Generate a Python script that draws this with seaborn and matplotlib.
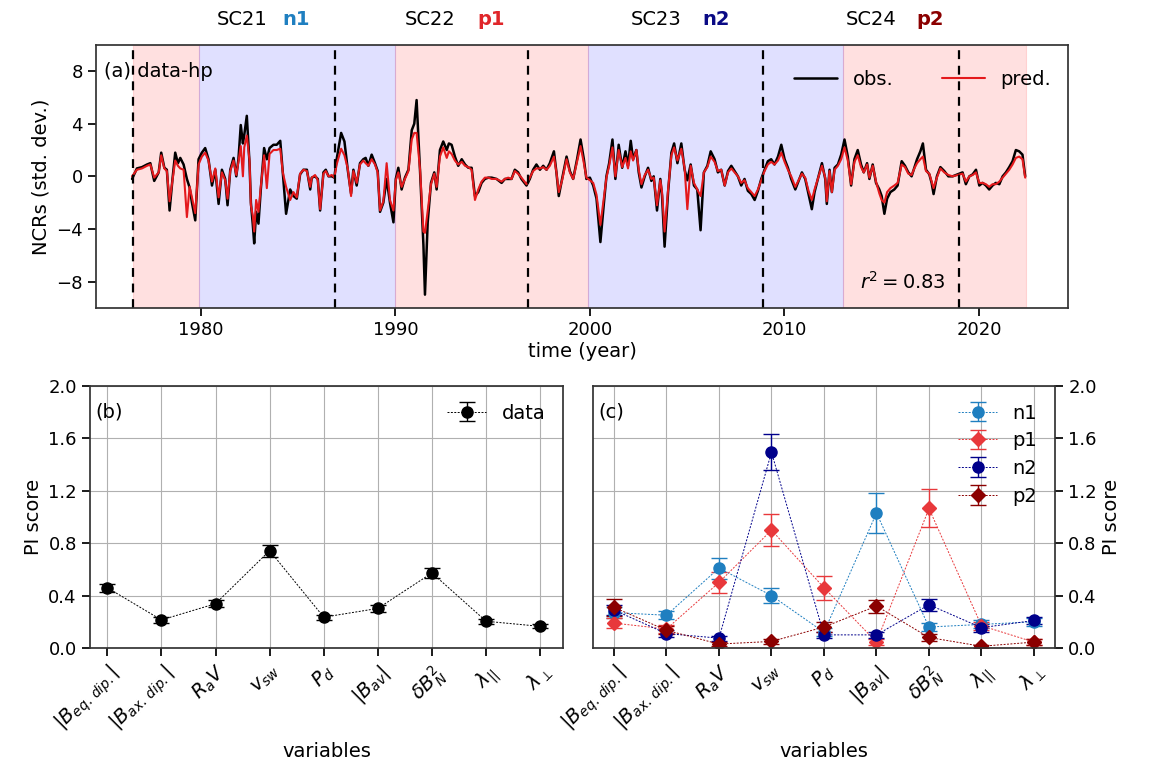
import numpy as np
import pandas as pd
import matplotlib
matplotlib.use("Agg")
import matplotlib.pyplot as plt
import seaborn as sns

# ---------------- data: panel (a) ----------------
years = [
    1976.46, 1976.71, 1976.97, 1977.23, 1977.40, 1977.60, 1977.83, 1977.96, 1978.12, 1978.25,
    1978.39, 1978.54, 1978.68, 1978.82, 1978.94, 1979.11, 1979.28, 1979.42, 1979.54, 1979.71,
    1979.88, 1980.05, 1980.22, 1980.39, 1980.57, 1980.74, 1980.91, 1981.08, 1981.25, 1981.37,
    1981.51, 1981.68, 1981.82, 1981.93, 1982.05, 1982.16, 1982.23, 1982.36, 1982.50, 1982.57,
    1982.67, 1982.74, 1982.84, 1982.96, 1983.08, 1983.25, 1983.39, 1983.53, 1983.73, 1983.90,
    1984.08, 1984.21, 1984.38, 1984.59, 1984.76, 1984.93, 1985.10, 1985.27, 1985.45, 1985.62,
    1985.70, 1985.87, 1986.01, 1986.13, 1986.30, 1986.42, 1986.56, 1986.73, 1986.86, 1986.98,
    1987.21, 1987.38, 1987.55, 1987.72, 1987.84, 1988.01, 1988.18, 1988.35, 1988.47, 1988.61,
    1988.78, 1988.95, 1989.09, 1989.21, 1989.38, 1989.55, 1989.72, 1989.90, 1990.02, 1990.15,
    1990.32, 1990.49, 1990.67, 1990.84, 1990.97, 1991.09, 1991.27, 1991.44, 1991.52, 1991.66,
    1991.83, 1992.00, 1992.12, 1992.29, 1992.46, 1992.64, 1992.75, 1992.89, 1993.06, 1993.23,
    1993.41, 1993.58, 1993.75, 1993.92, 1994.09, 1994.26, 1994.43, 1994.60, 1994.78, 1994.95,
    1995.20, 1995.46, 1995.63, 1995.80, 1995.97, 1996.14, 1996.31, 1996.48, 1996.74, 1996.91,
    1997.08, 1997.25, 1997.43, 1997.60, 1997.77, 1997.94, 1998.15, 1998.28, 1998.40, 1998.57,
    1998.80, 1998.97, 1999.14, 1999.34, 1999.52, 1999.69, 1999.82, 2000.00, 2000.17, 2000.34,
    2000.54, 2000.71, 2000.85, 2000.99, 2001.16, 2001.31, 2001.48, 2001.66, 2001.83, 2001.96,
    2002.10, 2002.22, 2002.39, 2002.51, 2002.65, 2002.82, 2002.99, 2003.16, 2003.28, 2003.45,
    2003.62, 2003.71, 2003.84, 2004.02, 2004.19, 2004.33, 2004.50, 2004.70,
    2004.87, 2005.01, 2005.18, 2005.35, 2005.52, 2005.69, 2005.86, 2006.04, 2006.21, 2006.41,
    2006.58, 2006.75, 2006.93, 2007.10, 2007.27, 2007.44, 2007.61, 2007.78, 2007.95, 2008.12,
    2008.30, 2008.47, 2008.64, 2008.81, 2008.98, 2009.15, 2009.32, 2009.49, 2009.67, 2009.84,
    2010.01, 2010.18, 2010.35, 2010.56, 2010.73, 2010.90, 2011.07, 2011.24, 2011.41, 2011.55,
    2011.72, 2011.93, 2012.10, 2012.18, 2012.32, 2012.44, 2012.58, 2012.75, 2012.92, 2013.09,
    2013.26, 2013.43, 2013.60, 2013.77,
    2013.94, 2014.08, 2014.25, 2014.37, 2014.54, 2014.71, 2014.88, 2015.00, 2015.14, 2015.28,
    2015.45, 2015.65, 2015.82, 2016.03, 2016.20, 2016.37, 2016.54, 2016.68, 2016.82, 2016.99,
    2017.12, 2017.28, 2017.45, 2017.57, 2017.67, 2017.84, 2018.02, 2018.22, 2018.43, 2018.65,
    2018.91, 2019.16, 2019.33, 2019.51, 2019.68, 2019.85, 2020.02, 2020.19, 2020.36, 2020.53,
    2020.70, 2020.87, 2021.05, 2021.22, 2021.39, 2021.56, 2021.73, 2021.90, 2022.07, 2022.24,
    2022.38,
]
obs = [
    -0.2, 0.6, 0.7, 0.9, 1.0, -0.35, 0.3, 1.8, 0.65, 0.5,
    -2.6, -0.2, 1.8, 1.0, 1.4, 0.9, -0.2, -0.85, -2.0, -3.35,
    1.3, 1.8, 2.15, 1.3, -0.7, 0.5, -2.1, 0.5, -0.2, -2.2,
    0.5, 1.4, 0.0, 1.3, 3.9, 2.5, 3.15, 4.6, 1.0, -2.0,
    -3.7, -5.1, -2.7, -3.6, -1.0, 2.15, 1.3, 2.15, 2.4, 2.4,
    2.7, 0.3, -2.85, -1.0, -1.5, -1.7, 0.15, 0.5, 0.5, -1.0,
    -0.1, 0.0, -0.2, -2.6, 0.3, 0.5, 0.0, 0.0, -0.1, 1.3,
    3.3, 2.65, 0.5, -1.3, 0.5, -0.7, 1.0, 1.3, 1.4, 0.8,
    1.65, 1.0, 0.4, -2.7, -2.0, -0.2, -2.0, -3.5, -0.2, 0.65,
    -1.0, -0.1, 0.5, 3.5, 4.0, 5.8, 0.3, -5.2, -9.0, -3.5,
    -0.5, 0.3, -1.0, 2.0, 2.65, 2.0, 2.5, 2.4, 1.5, 0.8,
    1.3, 0.9, 0.65, 0.65, -1.5, -1.2, -0.5, -0.2, -0.1, -0.1,
    -0.2, -0.5, -0.2, -0.2, -0.2, 0.5, 0.3, -0.2, -0.7, -0.2,
    0.5, 0.9, 0.5, 0.8, 0.5, 1.0, 1.9, 0.3, -1.5, -0.2,
    1.5, 0.4, -0.2, 1.3, 2.8, 1.3, -0.2, -0.1, -0.7, -1.7,
    -5.0, -2.2, 0.0, 1.0, 2.8, -0.2, 2.4, 0.65, 1.9, 0.8,
    2.7, 1.3, 2.0, 0.3, -0.85, 0.0, 0.65, -0.35, 0.0, -2.6,
    -0.2, -1.5, -5.35, -1.2, 1.8, 2.5, 1.0, 2.5,
    0.5, -0.3, 0.9, -0.7, -1.0, -4.1, 0.3, 0.8, 1.9, 1.3,
    0.3, 0.5, -0.7, 0.4, 0.8, 0.4, 0.0, -0.7, -0.2, -1.1,
    -1.35, -1.8, -1.1, -0.2, 0.5, 1.15, 1.3, 0.9, 1.5, 2.4,
    1.3, 0.65, -0.2, -1.0, -0.35, 0.3, -0.2, -1.35, -2.5, -1.2,
    -0.2, 1.0, -0.2, -2.1, 0.5, -1.2, 0.65, 0.9, 1.65, 2.8,
    1.5, -0.7, 1.3, 2.0,
    0.9, 0.3, 1.0, -0.2, 0.9, -0.5, -1.0, -1.5, -2.85, -1.7,
    -1.2, -1.0, -0.7, 1.15, 0.8, 0.3, 0.0, 0.65, 1.3, 1.9,
    2.5, 0.5, 0.15, -0.5, -1.35, 0.0, 0.7, 0.4, 0.0, 0.0,
    0.15, 0.3, -0.6, 0.0, 0.15, 0.5, -0.7, -0.5, -0.7, -1.0,
    -0.7, -0.5, -0.6, 0.0, 0.3, 0.7, 1.15, 2.0, 1.9, 1.65,
    0.0,
]
pred = [
    0.0, 0.5, 0.6, 0.8, 0.9, -0.1, 0.3, 1.6, 0.6, 0.4,
    -1.9, -0.3, 1.2, 0.8, 0.6, 0.5, -3.1, -0.8, -1.6, -2.8,
    0.9, 1.5, 1.8, 1.2, -0.4, 0.6, -1.6, 0.3, -0.3, -1.7,
    0.4, 1.2, 0.1, 1.1, 2.3, 0.0, 2.2, 3.1, 1.2, -2.2,
    -3.0, -4.2, -1.8, -2.7, -0.8, 1.6, -0.9, 1.7, 2.0, 2.0,
    2.1, 0.3, -0.8, -1.8, -1.2, -1.6, 0.2, 0.5, 0.4, -0.8,
    -0.1, 0.1, -0.3, -2.5, 0.2, 0.4, 0.0, 0.1, -0.1, 0.9,
    2.1, 1.6, 0.6, -1.5, 0.4, -0.5, 0.9, 1.2, 1.0, 0.8,
    1.3, 0.9, 0.3, -2.6, -1.9, 1.0, -1.8, -2.6, -0.3, 0.3,
    -0.8, -0.2, 0.4, 2.8, 3.3, 3.3, 0.5, -4.2, -4.3, -2.6,
    -0.6, 0.2, -0.8, 1.5, 2.2, 1.4, 1.9, 1.7, 1.2, 0.9,
    1.1, 0.8, 0.7, 0.5, -1.8, -1.0, -0.4, -0.1, -0.1, -0.2,
    -0.2, -0.4, -0.2, -0.1, -0.2, 0.4, 0.2, -0.1, -0.6, -0.1,
    0.4, 0.6, 0.6, 0.7, 0.5, 0.8, 1.5, 0.3, -1.2, -0.3,
    1.3, 0.3, -0.2, 1.1, 2.3, 1.0, -0.1, -0.3, -0.5, -1.4,
    -3.7, -1.7, -0.1, 0.8, 2.2, 0.0, 2.0, 0.7, 1.4, 0.6,
    1.9, 1.2, 2.0, 0.5, -0.6, 0.1, 0.5, -0.2, -0.1, -2.2,
    -0.3, -1.2, -4.2, -1.0, 1.6, 2.2, 1.2, 2.1,
    0.6, -2.5, 0.8, -0.5, -1.0, -1.5, 0.3, 0.7, 1.5, 1.1,
    0.4, 0.5, -0.7, 0.3, 0.6, 0.3, 0.0, -0.5, -0.3, -0.9,
    -1.2, -1.5, -1.0, -0.3, 0.4, 0.9, 1.1, 0.9, 1.2, 1.8,
    1.1, 0.5, 0.0, -0.8, -0.3, 0.2, -0.1, -1.1, -1.8, -1.0,
    -0.2, 0.8, -0.1, -1.9, 0.4, -1.2, 0.5, 0.8, 1.3, 2.2,
    1.2, -0.6, 1.1, 1.6,
    0.7, 0.3, 0.9, -0.1, 0.8, -0.4, -1.3, -1.8, -2.0, -1.2,
    -0.9, -0.7, -0.5, 0.9, 0.7, 0.2, 0.1, 0.6, 1.0, 1.3,
    1.5, 0.4, 0.2, -0.4, -0.9, -0.1, 0.6, 0.3, 0.1, 0.0,
    0.1, 0.2, -0.4, 0.0, 0.1, 0.3, -0.5, -0.5, -0.6, -0.8,
    -0.6, -0.6, -0.4, -0.1, 0.2, 0.5, 0.9, 1.4, 1.5, 1.3,
    -0.1,
]

cycle_starts = [1976.5, 1986.9, 1996.8, 2008.9, 2019.0]
cycle_names = ["SC21", "SC22", "SC23", "SC24"]
cycle_label_x = [1982.1, 1991.8, 2003.4, 2014.45]
polarity_names = ["n1", "p1", "n2", "p2"]
polarity_label_x = [1984.9, 1994.9, 2006.5, 2017.5]
polarity_colors = ["#1f7fc0", "#e0262a", "#0a0a85", "#8b0000"]
# shaded polarity epochs (start, end, kind)
span_start = [1976.5, 1979.9, 1990.0, 1999.9, 2013.0]
span_end = [1979.9, 1990.0, 1999.9, 2013.0, 2022.4]
span_kind = ["p", "n", "p", "n", "p"]

# ---------------- data: panels (b) and (c) ----------------
var_labels = [r"$|B_{eq.\,dip.}|$", r"$|B_{ax.\,dip.}|$", r"$R_{a}V$", r"$v_{sw}$",
              r"$P_{d}$", r"$|B_{av}|$", r"$\delta B_N^2$", r"$\lambda_{||}$", r"$\lambda_{\perp}$"]
pi_data = [0.46, 0.214, 0.338, 0.743, 0.235, 0.302, 0.573, 0.204, 0.165]
pi_data_err = [0.03, 0.02, 0.025, 0.045, 0.02, 0.025, 0.037, 0.02, 0.015]

pi_n1 = [0.27, 0.25, 0.61, 0.40, 0.12, 1.03, 0.16, 0.18, 0.20]
pi_n1_err = [0.04, 0.03, 0.08, 0.055, 0.03, 0.155, 0.03, 0.03, 0.03]
pi_p1 = [0.19, 0.145, 0.50, 0.90, 0.46, 0.045, 1.065, 0.17, 0.045]
pi_p1_err = [0.04, 0.03, 0.08, 0.125, 0.09, 0.02, 0.145, 0.03, 0.02]
pi_n2 = [0.29, 0.11, 0.075, 1.495, 0.10, 0.10, 0.33, 0.155, 0.21]
pi_n2_err = [0.04, 0.025, 0.02, 0.14, 0.025, 0.025, 0.045, 0.03, 0.03]
pi_p2 = [0.31, 0.135, 0.03, 0.05, 0.16, 0.32, 0.08, 0.013, 0.045]
pi_p2_err = [0.065, 0.03, 0.015, 0.02, 0.035, 0.05, 0.025, 0.01, 0.02]

# ---------------- plotting ----------------
sns.set_theme(style="ticks", rc={"text.color": "black", "axes.labelcolor": "black",
                                 "xtick.color": "black", "ytick.color": "black",
                                 "axes.edgecolor": "#333333"})
plt.rcParams["font.family"] = ["DejaVu Sans"]
plt.rcParams["mathtext.fontset"] = "dejavusans"

fig = plt.figure(figsize=(11.55, 7.6), dpi=100)
ax_a = fig.add_axes([0.083, 0.595, 0.842, 0.346])
ax_b = fig.add_axes([0.0779, 0.1474, 0.4095, 0.3447])
ax_c = fig.add_axes([0.5134, 0.1474, 0.4, 0.3447])

# panel (a)
for s, e, k in zip(span_start, span_end, span_kind):
    ax_a.axvspan(s, e, color=("red" if k == "p" else "blue"), alpha=0.12, lw=0.8)

df_ts = pd.DataFrame({"year": years, "obs.": obs, "pred.": pred})
sns.lineplot(data=df_ts, x="year", y="obs.", ax=ax_a, color="black", lw=1.8, label="obs.")
sns.lineplot(data=df_ts, x="year", y="pred.", ax=ax_a, color="#e4191c", lw=1.5, label="pred.")

for xs in cycle_starts:
    ax_a.axvline(xs, color="black", ls=(0, (4, 3)), lw=1.6)

ax_a.set_xlim(1974.6, 2024.6)
ax_a.set_ylim(-10, 10)
ax_a.set_yticks([-8, -4, 0, 4, 8])
ax_a.set_xticks([1980, 1990, 2000, 2010, 2020])
ax_a.set_xlabel("time (year)", fontsize=14, labelpad=2)
ax_a.set_ylabel("NCRs (std. dev.)", fontsize=14)
ax_a.tick_params(labelsize=13)
ax_a.text(0.008, 0.9, "(a) data-hp", transform=ax_a.transAxes, fontsize=14, va="center")
ax_a.text(0.83, 0.1, r"$r^2 = 0.83$", transform=ax_a.transAxes, fontsize=14, ha="center", va="center")
ax_a.legend(loc="upper right", ncol=2, frameon=False, fontsize=14, handlelength=2.2,
            columnspacing=2.5, bbox_to_anchor=(1.0, 0.97))
trans = matplotlib.transforms.blended_transform_factory(ax_a.transData, ax_a.transAxes)
for xl, name in zip(cycle_label_x, cycle_names):
    ax_a.text(xl, 1.095, name, transform=trans, ha="center", va="center", fontsize=14)
for xl, name, col in zip(polarity_label_x, polarity_names, polarity_colors):
    ax_a.text(xl, 1.095, name, transform=trans, ha="center", va="center", fontsize=14,
              color=col, fontweight="bold")

xpos = np.arange(len(var_labels))

def style_bottom(ax):
    ax.set_ylim(0, 2.0)
    ax.set_yticks([0.0, 0.4, 0.8, 1.2, 1.6, 2.0])
    ax.set_xticks(xpos)
    ax.set_xticklabels(var_labels, rotation=45, ha="right", rotation_mode="anchor", fontsize=14)
    ax.tick_params(axis="y", labelsize=13)
    ax.grid(True, color="#b0b0b0", lw=0.8)
    ax.set_axisbelow(True)
    ax.set_xlabel("variables", fontsize=14)
    ax.set_ylabel("PI score", fontsize=14)

# panel (b)
ax_b.errorbar(xpos, pi_data, yerr=pi_data_err, fmt="o", color="black", ms=8, capsize=6,
              elinewidth=1.0, capthick=1.0, ls=(0, (2, 1.5)), lw=0.7, label="data")
style_bottom(ax_b)
ax_b.set_xlim(-0.32, 8.42)
ax_b.text(0.012, 0.9, "(b)", transform=ax_b.transAxes, fontsize=14, va="center")
ax_b.legend(loc="upper right", frameon=False, fontsize=14, handlelength=2.0)

# panel (c)
series = [("n1", pi_n1, pi_n1_err, "o", polarity_colors[0]),
          ("p1", pi_p1, pi_p1_err, "D", "#e8383b"),
          ("n2", pi_n2, pi_n2_err, "o", "#00008b"),
          ("p2", pi_p2, pi_p2_err, "D", "#8b0000")]
for name, vals, errs, mk, col in series:
    ax_c.errorbar(xpos, vals, yerr=errs, fmt=mk, color=col, ms=(8 if mk == "o" else 7),
                  capsize=6, elinewidth=1.0, capthick=1.0, ls=(0, (2, 1.5)), lw=0.7, label=name)
style_bottom(ax_c)
ax_c.set_xlim(-0.4, 8.4)
ax_c.yaxis.tick_right()
ax_c.yaxis.set_label_position("right")
ax_c.text(0.012, 0.9, "(c)", transform=ax_c.transAxes, fontsize=14, va="center")
ax_c.legend(loc="upper right", frameon=False, fontsize=14, handlelength=2.0,
            bbox_to_anchor=(1.0, 1.0), labelspacing=0.45)

fig.savefig("out.png", dpi=100)
